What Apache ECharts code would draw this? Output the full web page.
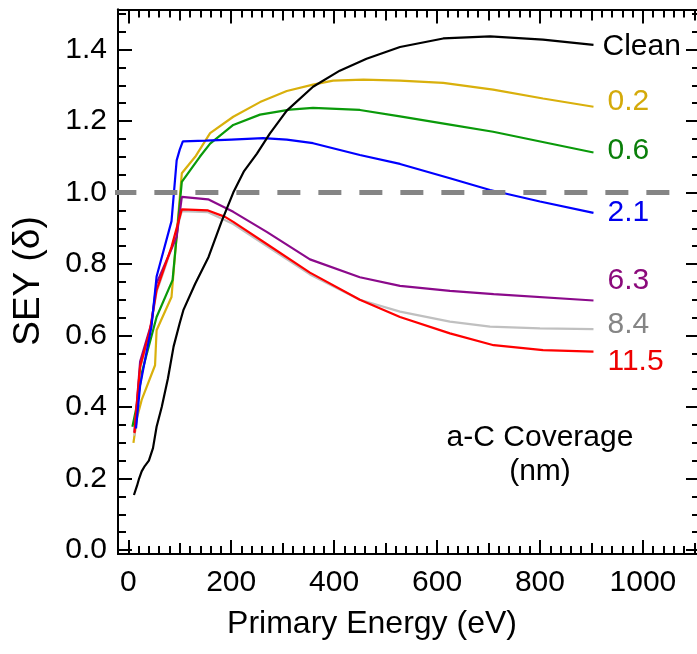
<!DOCTYPE html>
<html>
<head>
<meta charset="utf-8">
<script src="https://cdn.jsdelivr.net/npm/echarts@6/dist/echarts.min.js"></script>
<style>
  html, body { margin: 0; padding: 0; background: #fff; }
  #chart { width: 697px; height: 654px; }
</style>
</head>
<body>
<div id="chart"></div>
<script>
// SEY vs primary energy, [eV, delta]
const clean = [[11,0.154],[17,0.18],[21,0.2],[26,0.22],[32,0.235],[40,0.25],[48,0.285],[55,0.345],[65,0.40],[77,0.48],[88,0.569],[100,0.635],[107,0.671],[130,0.745],[156,0.82],[181,0.918],[204,1.0],[225,1.06],[250,1.109],[275,1.165],[308,1.229],[359,1.296],[411,1.341],[463,1.374],[528,1.407],[612,1.431],[703,1.437],[806,1.428],[904,1.413]]
const c02 = [[10,0.30],[17,0.37],[26,0.42],[52,0.517],[55,0.615],[84,0.708],[104,1.054],[130,1.10],[159,1.166],[204,1.212],[256,1.253],[308,1.284],[359,1.302],[398,1.313],[457,1.316],[528,1.313],[612,1.307],[709,1.288],[806,1.263],[904,1.24]]
const c06 = [[8,0.345],[16,0.40],[27,0.50],[55,0.652],[86,0.755],[104,1.03],[139,1.10],[159,1.137],[204,1.189],[256,1.218],[314,1.232],[359,1.237],[450,1.231],[528,1.213],[625,1.19],[709,1.17],[904,1.112]]
const c21 = [[15,0.34],[23,0.46],[45,0.625],[55,0.765],[84,0.92],[94,1.09],[100,1.12],[106,1.143],[150,1.145],[200,1.148],[262,1.152],[308,1.148],[359,1.138],[450,1.105],[528,1.08],[625,1.04],[703,1.007],[800,0.975],[904,0.943]]
const c63 = [[12,0.33],[16,0.40],[23,0.527],[45,0.634],[55,0.746],[94,0.876],[104,0.988],[155,0.981],[204,0.946],[269,0.89],[353,0.813],[450,0.763],[528,0.739],[625,0.725],[710,0.716],[904,0.698]]
const c84 = [[12,0.32],[16,0.395],[23,0.508],[42,0.61],[55,0.722],[84,0.843],[104,0.948],[155,0.945],[204,0.912],[269,0.85],[353,0.771],[450,0.70],[528,0.667],[625,0.639],[703,0.625],[800,0.62],[904,0.618]]
const c115 = [[12,0.327],[16,0.40],[23,0.513],[42,0.615],[55,0.727],[84,0.848],[104,0.953],[155,0.95],[188,0.932],[204,0.918],[269,0.856],[353,0.776],[450,0.70],[528,0.652],[625,0.606],[710,0.573],[806,0.559],[904,0.555]]

const unityLevel = 1.0
const unityRange = [-29, 1078]

const xLabels = [0, 200, 400, 600, 800, 1000]
const xMid = [100, 300, 500, 700, 900, 1100]
const yLabels = [0, 0.2, 0.4, 0.6, 0.8, 1.0, 1.2, 1.4]

const X_MIN = -20, X_MAX = 1111
const Y_MIN = -0.011, Y_MAX = 1.512
const xMinor = []
for (let v = 0; v <= 1100; v += 20) xMinor.push(v)
const yMinor = []
for (let i = 0; i <= 30; i++) yMinor.push(+(i * 0.05).toFixed(2))

const font = 'Liberation Sans, Arial, sans-serif'
const black = '#000'

function xAx(pos, ticks, len, labels) {
  return {
    type: 'value', position: pos, min: X_MIN, max: X_MAX,
    axisLine: { show: true, onZero: false, lineStyle: { color: black, width: 2 } },
    axisTick: { show: true, inside: true, length: len, customValues: ticks, lineStyle: { color: black, width: 2 } },
    axisLabel: labels
      ? { show: true, customValues: xLabels, margin: 14, color: black, fontSize: 30, fontFamily: font,
          formatter: v => String(v) }
      : { show: false },
    splitLine: { show: false },
  }
}

function yAx(pos, ticks, len, labels) {
  return {
    type: 'value', position: pos, min: Y_MIN, max: Y_MAX,
    axisLine: { show: true, onZero: false, lineStyle: { color: black, width: 2 } },
    axisTick: { show: true, inside: true, length: len, customValues: ticks, lineStyle: { color: black, width: 2 } },
    axisLabel: labels
      ? { show: true, customValues: yLabels, margin: 11, color: black, fontSize: 30, fontFamily: font,
          formatter: v => Number(v).toFixed(1) }
      : { show: false },
    splitLine: { show: false },
  }
}

function curve(name, data, color, labelColor, offset) {
  return {
    type: 'line', name, data, showSymbol: false, symbol: 'none',
    lineStyle: { color, width: 2.2 },
    endLabel: {
      show: true, formatter: name, color: labelColor, fontSize: 30, fontFamily: font,
      distance: 5, offset,
    },
    z: 3,
  }
}

const chart = echarts.init(document.getElementById('chart'), null, { renderer: 'canvas' })
chart.setOption({
  animation: false,
  backgroundColor: '#fff',
  grid: { left: 118, top: 9.5, width: 582, height: 544.5, containLabel: false, outerBoundsMode: 'none' },
  xAxis: [
    xAx('bottom', xLabels, 14, true),
    xAx('bottom', xMid, 11, false),
    xAx('bottom', xMinor, 8, false),
    xAx('top', xLabels, 14, false),
    xAx('top', xMid, 11, false),
    xAx('top', xMinor, 8, false),
  ],
  yAxis: [
    yAx('left', yLabels, 14, true),
    yAx('left', yMinor, 8, false),
    yAx('right', yLabels, 14, false),
    yAx('right', yMinor, 8, false),
  ],
  series: [
    curve('0.2', c02, '#d9b00c', '#d4aa0a', [9, -5]),
    curve('0.6', c06, '#0a9a0a', '#0a7f0a', [9, -2]),
    curve('8.4', c84, '#c0c0c0', '#858585', [9, -4]),
    curve('6.3', c63, '#8b0a8b', '#8b0a7b', [9, -20]),
    curve('11.5', c115, '#ff0000', '#ee0000', [9, 10]),
    curve('2.1', c21, '#0000ff', '#0000ee', [9, 0]),
    curve('Clean', clean, '#000000', '#000000', [4, 2]),
    {
      type: 'line', name: 'unity', silent: true, clip: false, showSymbol: false, symbol: 'none',
      data: [[unityRange[0], unityLevel], [unityRange[1], unityLevel]],
      lineStyle: { color: '#858585', width: 5, type: [23, 18], cap: 'butt' },
      z: 4,
    },
  ],
  graphic: [
    { type: 'text', x: 372, y: 624,
      style: { text: 'Primary Energy (eV)', font: '32px ' + font, fill: black, textAlign: 'center', textVerticalAlign: 'middle' } },
    { type: 'text', x: 29, y: 281, rotation: Math.PI / 2,
      style: { text: 'SEY (δ)', font: '37px ' + font, fill: black, textAlign: 'center', textVerticalAlign: 'middle' } },
    { type: 'text', x: 540, y: 438,
      style: { text: 'a-C Coverage', font: '30px ' + font, fill: black, textAlign: 'center', textVerticalAlign: 'middle' } },
    { type: 'text', x: 540, y: 472,
      style: { text: '(nm)', font: '30px ' + font, fill: black, textAlign: 'center', textVerticalAlign: 'middle' } },
  ],
})
</script>
</body>
</html>
